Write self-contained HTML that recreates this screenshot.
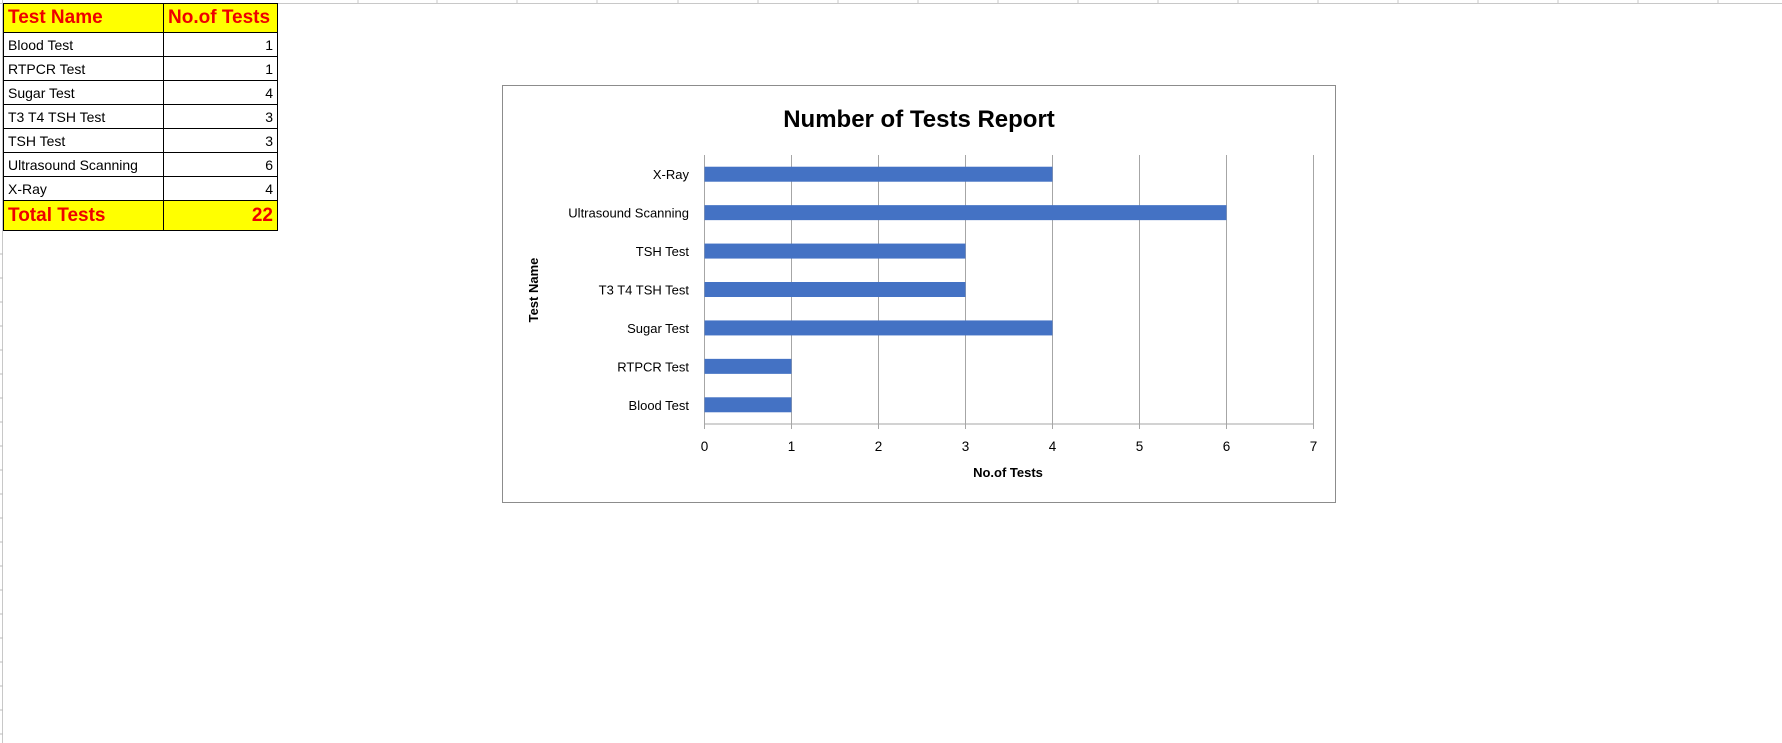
<!DOCTYPE html>
<html><head><meta charset="utf-8"><style>
body{margin:0;width:1782px;height:743px;background:#fff;position:relative;overflow:hidden;font-family:"Liberation Sans",sans-serif}
table{position:absolute;left:3px;top:3px;border-collapse:collapse;font-size:14px}
td{border:1px solid #000;height:24px;padding:0 4px;box-sizing:border-box;white-space:nowrap}
td.n{text-align:right}
tr.h td{background:#ff0;color:#e00;font-weight:bold;font-size:19px;height:29px}
tr.t td{background:#ff0;color:#e00;font-weight:bold;font-size:19px;height:30px}
</style></head><body>
<svg id="grid" width="1782" height="743" style="position:absolute;left:0;top:0"></svg>
<table>
<colgroup><col style="width:160px"><col style="width:114px"></colgroup>
<tr class="h"><td>Test Name</td><td>No.of Tests</td></tr>
<tr><td>Blood Test</td><td class="n">1</td></tr>
<tr><td>RTPCR Test</td><td class="n">1</td></tr>
<tr><td>Sugar Test</td><td class="n">4</td></tr>
<tr><td>T3 T4 TSH Test</td><td class="n">3</td></tr>
<tr><td>TSH Test</td><td class="n">3</td></tr>
<tr><td>Ultrasound Scanning</td><td class="n">6</td></tr>
<tr><td>X-Ray</td><td class="n">4</td></tr>
<tr class="t"><td>Total Tests</td><td class="n">22</td></tr>
</table>
<svg id="chart" width="1782" height="743" style="position:absolute;left:0;top:0"></svg>
<script>
const categories=["Blood Test","RTPCR Test","Sugar Test","T3 T4 TSH Test","TSH Test","Ultrasound Scanning","X-Ray"];
const values=[1,1,4,3,3,6,4];
const xTicks=[0,1,2,3,4,5,6,7];
const NS="http://www.w3.org/2000/svg";
function mk(p,t,a){const e=document.createElementNS(NS,t);for(const k in a)e.setAttribute(k,a[k]);p.appendChild(e);return e;}
const g=document.getElementById('grid');
const colX=[358,437,517,597,678,758,838,918,998,1078,1158,1238,1318,1398,1478,1558,1638,1718];
for(const x of colX){const l=mk(g,'line',{x1:x,y1:0,x2:x,y2:4,stroke:'#c8c8c8'});

}
const tl=mk(g,'line',{x1:0,y1:3.5,x2:1782,y2:3.5,stroke:'#c8c8c8'});

const ll=mk(g,'line',{x1:2.5,y1:0,x2:2.5,y2:743,stroke:'#c8c8c8'});

for(let y=254;y<743;y+=24){const l=mk(g,'line',{x1:0,y1:y,x2:3,y2:y,stroke:'#bbb'});
}
const s=document.getElementById('chart');
const box=mk(s,'rect',{x:502.5,y:85.5,width:833,height:417,fill:'#fff',stroke:'#8c8c8c'});

const X0=704.5,X1=1313.5,Y0=155,Y1=424,xmax=7;
const xs=v=>X0+(X1-X0)*v/xmax;
const band=(Y1-Y0)/categories.length;
const yc=i=>Y1-band*(i+0.5);
const F='"Liberation Sans",sans-serif';
const title=mk(s,'text',{x:919,y:127,'text-anchor':'middle','font-size':24,'font-weight':'bold','font-family':F,fill:'#000'});
title.textContent='Number of Tests Report';

xTicks.forEach(t=>{
 const l=mk(s,'line',{x1:xs(t),y1:Y0,x2:xs(t),y2:Y1+5,stroke:'#a6a6a6'});
 
 const tx=mk(s,'text',{x:xs(t),y:451,'text-anchor':'middle','font-size':13.5,'font-family':F,fill:'#000'});
 tx.textContent=t;
 
});
const ax=mk(s,'line',{x1:X0,y1:Y1,x2:X1,y2:Y1,stroke:'#a6a6a6'});

categories.forEach((c,i)=>{
 const b=mk(s,'rect',{x:xs(0),y:yc(i)-7.5,width:xs(values[i])-xs(0),height:15,fill:'#4472c4'});
 
 const t=mk(s,'text',{x:689,y:yc(i)+5,'text-anchor':'end','font-size':13,'font-family':F,fill:'#000'});
 t.textContent=c;
 
});
const xt=mk(s,'text',{x:1008,y:477,'text-anchor':'middle','font-size':13,'font-weight':'bold','font-family':F,fill:'#000'});
xt.textContent='No.of Tests';

const yt=mk(s,'text',{x:538,y:290,'text-anchor':'middle','font-size':13,'font-weight':'bold','font-family':F,fill:'#000',transform:'rotate(-90 538 290)'});
yt.textContent='Test Name';

</script>
</body></html>
